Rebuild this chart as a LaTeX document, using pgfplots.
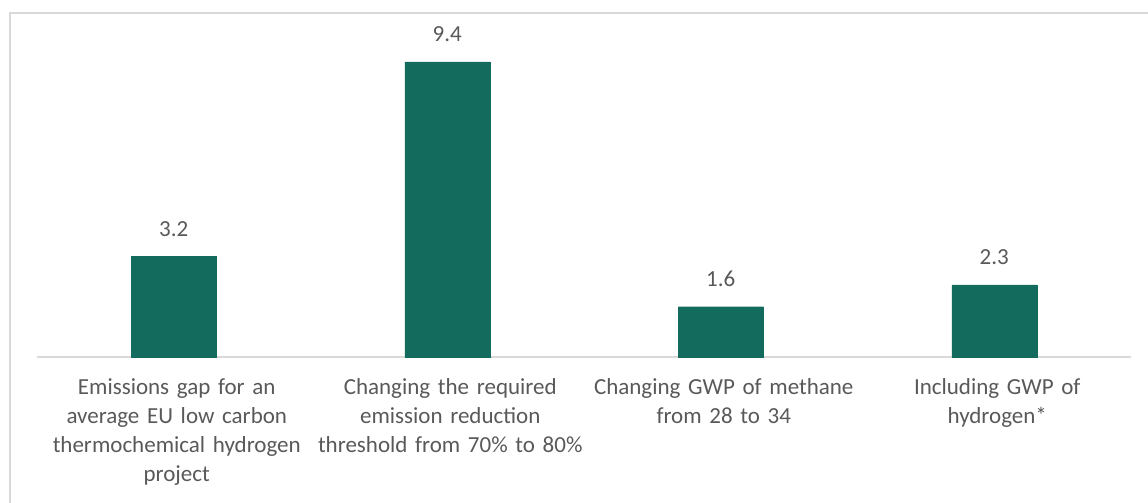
\documentclass[border=0pt]{standalone}
\usepackage{fontspec}
\setmainfont{Carlito}
\usepackage{pgfplots}
\pgfplotsset{compat=1.18}
\definecolor{barc}{RGB}{19,107,94}
\definecolor{txt}{RGB}{89,89,89}
\definecolor{brd}{RGB}{217,217,217}
\newcommand{\lbl}{\fontsize{23bp}{29bp}\selectfont}
\begin{document}
\begin{tikzpicture}[x=1bp,y=1bp]
\useasboundingbox (0,0) rectangle (1148,503);
\begin{scope}
\clip (0,0) rectangle (1148,503);
\draw[brd, line width=2bp] (10,-20) rectangle (1170,490);
\end{scope}
\begin{axis}[
  at={(37bp,146bp)}, anchor=south west,
  width=1094bp, height=326.6bp, scale only axis,
  ymin=0, ymax=10.4, xmin=-0.5, xmax=3.5,
  axis y line=none, axis x line*=bottom,
  x axis line style={brd, line width=2bp, -},
  xtick=data,
  xticklabels={{Emissions gap for an\\average EU low carbon\\thermochemical hydrogen\\project},
               {Changing the required\\emission reduction\\threshold from 70\% to 80\%},
               {Changing GWP of methane\\from 28 to 34},
               {Including GWP of\\hydrogen*}},
  xtick style={draw=none},
  xticklabel style={text width=280bp, align=center, text=txt, font=\lbl, anchor=north, inner sep=0pt, yshift=-17bp, xshift=3bp},
  /pgf/number format/assume math mode=true,
  ybar, bar width=85bp,
  nodes near coords={\pgfmathprintnumber[fixed, precision=1, fixed zerofill]{\pgfplotspointmeta}},
  nodes near coords style={anchor=south, inner sep=0pt, yshift=20bp, text=txt, font=\lbl},
  clip=false,
]
\addplot[fill=barc, draw=barc] coordinates {(0,3.2) (1,9.4) (2,1.6) (3,2.3)};
\end{axis}
\end{tikzpicture}
\end{document}
